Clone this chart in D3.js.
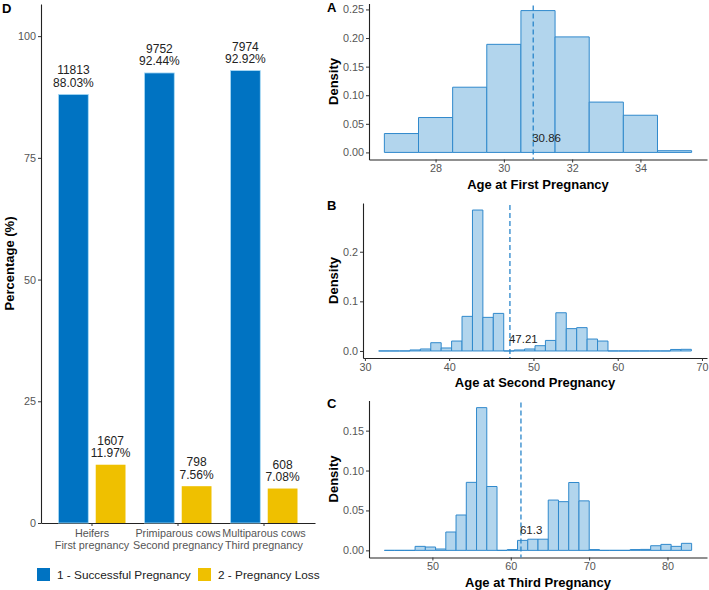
<!DOCTYPE html>
<html>
<head>
<meta charset="utf-8">
<script src="https://cdn.jsdelivr.net/npm/d3@7"></script>
<style>
body { margin: 0; background: #fff; }
text { font-family: "Liberation Sans", Arial, sans-serif; }
</style>
</head>
<body>
<div id="graphic"></div>
<script>
// Panel D data
const categories = ["Heifers", "Primiparous cows", "Multiparous cows"];
const categorySub = ["First pregnancy", "Second pregnancy", "Third pregnancy"];
const outcomes = ["1 - Successful Pregnancy", "2 - Pregnancy Loss"];
const successPct = [88.03, 92.44, 92.92];
const successN = [11813, 9752, 7974];
const lossPct = [11.97, 7.56, 7.08];
const lossN = [1607, 798, 608];
const pctTicks = [0, 25, 50, 75, 100];

// Panel A: age at first pregnancy (density per bin)
const firstStart = 26.5, firstBinWidth = 1;
const firstDensity = [0.033, 0.061, 0.114, 0.189, 0.248, 0.202, 0.088, 0.065, 0.003];
const firstMean = 30.86;
const firstXTicks = [28, 30, 32, 34];
const firstYTicks = [0, 0.05, 0.10, 0.15, 0.20, 0.25];

// Panel B: age at second pregnancy
const secondStart = 31.63, secondBinWidth = 1.237;
const secondDensity = [0, 0, 0, 0.002, 0.004, 0.0166, 0.006, 0.020, 0.0697, 0.284,
  0.0677, 0.0757, 0, 0.002, 0.004, 0.0106, 0.0212, 0.077, 0.045, 0.047,
  0.024, 0.020, 0, 0, 0, 0, 0, 0, 0.003, 0.0033];
const secondMean = 47.21;
const secondXTicks = [30, 40, 50, 60, 70];
const secondYTicks = [0, 0.1, 0.2];

// Panel C: age at third pregnancy
const thirdStart = 43.87, thirdBinWidth = 1.307;
const thirdDensity = [0, 0, 0, 0.005, 0.0042, 0.0017, 0.023, 0.0443, 0.0852, 0.1788,
  0.080, 0, 0.001, 0.0125, 0.014, 0.014, 0.063, 0.061, 0.085, 0.062,
  0.001, 0, 0, 0, 0.001, 0.0012, 0.0058, 0.0075, 0.005, 0.0088];
const thirdMean = 61.3;
const thirdXTicks = [50, 60, 70, 80];
const thirdYTicks = [0, 0.05, 0.10, 0.15];

const blue = "#0073C2", yellow = "#EFC000";
const tickGrey = "#555";

let svg = d3.select("#graphic")
  .append("svg")
    .attr("width", 709)
    .attr("height", 590);

function styleAxis(g) {
  g.select(".domain").attr("stroke", "#222").attr("stroke-width", 1.1);
  g.selectAll(".tick line").attr("stroke", "#333");
  g.selectAll(".tick text").attr("fill", tickGrey).style("font-size", "10.8px");
}

// ---------- Panel D ----------
let dLeft = 41, dRight = 315, dTop = 4, dBottom = 523;

let x = d3.scaleBand()
  .domain(categories)
  .range([dLeft, dRight])
  .paddingInner(0)
  .paddingOuter(0.093);

let xSub = d3.scaleBand()
  .domain(outcomes)
  .range([-33.5, 33.5])
  .paddingInner(0.2);

let y = d3.scaleLinear()
  .domain([0, 106.6])
  .range([dBottom, dTop]);

svg.append("g")
  .attr("transform", "translate(" + dLeft + ",0)")
  .call(d3.axisLeft(y).tickValues(pctTicks).tickSize(3).tickPadding(2).tickSizeOuter(0))
  .call(styleAxis);

let xAxisD = svg.append("g")
  .attr("transform", "translate(0," + dBottom + ")")
  .call(d3.axisBottom(x).tickSize(3).tickSizeOuter(0).tickFormat(""))
  .call(styleAxis);

xAxisD.selectAll(".tick").each(function(d, i) {
  let t = d3.select(this).append("text")
    .attr("fill", tickGrey)
    .attr("text-anchor", "middle")
    .style("font-size", "10.8px");
  t.append("tspan").attr("x", 0).attr("y", 14).text(categories[i]);
  t.append("tspan").attr("x", 0).attr("y", 25.5).text(categorySub[i]);
});

let barRows = [];
categories.forEach(function(c, i) {
  barRows.push({cat: c, outcome: outcomes[0], pct: successPct[i], n: successN[i], color: blue});
  barRows.push({cat: c, outcome: outcomes[1], pct: lossPct[i], n: lossN[i], color: yellow});
});

function barX(d) { return x(d.cat) + x.bandwidth() / 2 + xSub(d.outcome); }

svg.selectAll("rect.bar")
  .data(barRows)
  .enter()
  .append("rect")
    .attr("class", "bar")
    .attr("x", barX)
    .attr("y", d => y(d.pct))
    .attr("width", xSub.bandwidth())
    .attr("height", d => y(0) - y(d.pct))
    .attr("fill", d => d.color)
    .attr("stroke", d => d.color === blue ? "#a9daf5" : "none")
    .attr("stroke-width", 0.8);

let barLabels = svg.selectAll("text.barlab")
  .data(barRows)
  .enter()
  .append("text")
    .attr("class", "barlab")
    .attr("text-anchor", "middle")
    .attr("fill", "#222")
    .style("font-size", "12px");
barLabels.append("tspan")
  .attr("x", d => barX(d) + xSub.bandwidth() / 2)
  .attr("y", d => y(d.pct) - 20)
  .text(d => d.n);
barLabels.append("tspan")
  .attr("x", d => barX(d) + xSub.bandwidth() / 2)
  .attr("y", d => y(d.pct) - 7.5)
  .text(d => d.pct.toFixed(2) + "%");

svg.append("text")
  .attr("transform", "translate(14," + ((dTop + dBottom) / 2) + ") rotate(-90)")
  .attr("text-anchor", "middle")
  .style("font-size", "13px")
  .style("font-weight", "bold")
  .text("Percentage (%)");

svg.append("text")
  .attr("x", 2).attr("y", 13)
  .style("font-size", "13px")
  .style("font-weight", "bold")
  .text("D");

// legend
let legendX = [37, 198];
let legend = svg.selectAll("g.legend")
  .data(outcomes)
  .enter()
  .append("g")
    .attr("class", "legend")
    .attr("transform", (d, i) => "translate(" + legendX[i] + ",568)");
legend.append("rect")
  .attr("width", 13).attr("height", 13)
  .attr("fill", (d, i) => i === 0 ? blue : yellow);
legend.append("text")
  .attr("x", 20).attr("y", 11)
  .attr("fill", "#222")
  .style("font-size", "11.8px")
  .text(d => d);

// ---------- Histograms ----------
function histogram(opts) {
  let n = opts.density.length;
  let xmin = opts.start, xmax = opts.start + n * opts.binWidth;
  let xpad = 0.05 * (xmax - xmin);
  let ymax = d3.max(opts.density);

  let hx = d3.scaleLinear()
    .domain([xmin - xpad, xmax + xpad])
    .range([opts.left, opts.right]);
  let hy = d3.scaleLinear()
    .domain([-0.05 * ymax, ymax * 1.05])
    .range([opts.bottom, opts.top]);

  svg.append("g")
    .attr("transform", "translate(0," + opts.bottom + ")")
    .call(d3.axisBottom(hx).tickValues(opts.xTicks).tickSize(3).tickPadding(2).tickSizeOuter(0))
    .call(styleAxis);

  svg.append("g")
    .attr("transform", "translate(" + opts.left + ",0)")
    .call(d3.axisLeft(hy).tickValues(opts.yTicks).tickFormat(d3.format(opts.yFormat))
      .tickSize(3).tickPadding(2).tickSizeOuter(0))
    .call(styleAxis);

  // bins as closed paths so empty bins still show as a flat outline
  svg.append("g")
    .selectAll("path")
    .data(opts.density)
    .enter()
    .append("path")
      .attr("d", function(d, i) {
        let x0 = hx(xmin + i * opts.binWidth), x1 = hx(xmin + (i + 1) * opts.binWidth);
        return "M" + x0 + "," + hy(0) + "V" + hy(d) + "H" + x1 + "V" + hy(0) + "Z";
      })
      .attr("fill", "#b2d5ed")
      .attr("stroke", "#3089cc")
      .attr("stroke-width", 1);

  svg.append("line")
    .attr("x1", hx(opts.mean)).attr("x2", hx(opts.mean))
    .attr("y1", opts.top + 2).attr("y2", opts.bottom)
    .attr("stroke", "#2a86cb")
    .attr("stroke-width", 1.3)
    .attr("stroke-dasharray", "5,3");

  svg.append("text")
    .attr("x", hx(opts.mean) - 1)
    .attr("y", hy(0.025))
    .attr("dy", "0.35em")
    .attr("fill", "#222")
    .style("font-size", "11.5px")
    .text(opts.mean);

  svg.append("text")
    .attr("x", (opts.left + opts.right) / 2)
    .attr("y", opts.bottom + 29)
    .attr("text-anchor", "middle")
    .style("font-size", "13px")
    .style("font-weight", "bold")
    .text(opts.title);

  svg.append("text")
    .attr("transform", "translate(338," + ((opts.top + opts.bottom) / 2) + ") rotate(-90)")
    .attr("text-anchor", "middle")
    .style("font-size", "13px")
    .style("font-weight", "bold")
    .text("Density");

  svg.append("text")
    .attr("x", 327).attr("y", opts.letterY)
    .style("font-size", "13px")
    .style("font-weight", "bold")
    .text(opts.letter);
}

histogram({
  start: firstStart, binWidth: firstBinWidth, density: firstDensity, mean: firstMean,
  xTicks: firstXTicks, yTicks: firstYTicks, yFormat: ".2f",
  left: 369, right: 707, top: 3.5, bottom: 159.5,
  title: "Age at First Pregnancy", letter: "A", letterY: 12
});

histogram({
  start: secondStart, binWidth: secondBinWidth, density: secondDensity, mean: secondMean,
  xTicks: secondXTicks, yTicks: secondYTicks, yFormat: ".1f",
  left: 363, right: 707, top: 203, bottom: 358,
  title: "Age at Second Pregnancy", letter: "B", letterY: 210
});

histogram({
  start: thirdStart, binWidth: thirdBinWidth, density: thirdDensity, mean: thirdMean,
  xTicks: thirdXTicks, yTicks: thirdYTicks, yFormat: ".2f",
  left: 369, right: 707, top: 400.5, bottom: 557.5,
  title: "Age at Third Pregnancy", letter: "C", letterY: 408
});
</script>
</body>
</html>
